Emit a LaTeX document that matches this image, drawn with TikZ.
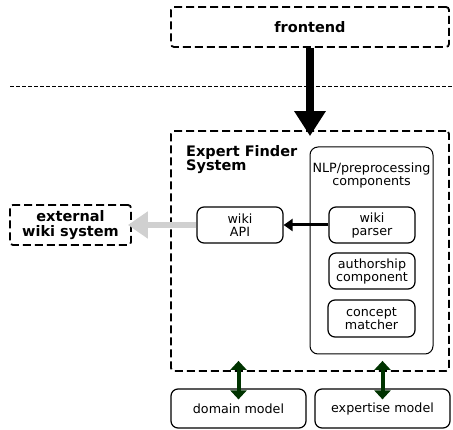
\documentclass[tikz,border=0pt]{standalone}
\usepackage{fontspec}
\setmainfont{DejaVu Sans}
\usetikzlibrary{arrows.meta}
\definecolor{darkgreen}{HTML}{003300}
\definecolor{lightgrey}{HTML}{D0D0D0}
\begin{document}
\begin{tikzpicture}[x=1pt,y=-1pt,
  dashbox/.style={draw, line width=1.8pt, dash pattern=on 8pt off 4pt,
    rounded corners=3pt, inner sep=0pt, align=center,
    font=\fontsize{14.5}{15}\selectfont\bfseries},
  compbox/.style={draw, line width=1.2pt, rounded corners=7pt, inner sep=0pt,
    minimum width=86pt, minimum height=36pt, align=center,
    font=\fontsize{12.7}{13}\selectfont},
  modelbox/.style={compbox, minimum width=135pt, minimum height=39pt},
  bigarrow/.style={line width=8pt, -{Triangle[width=30pt,length=25pt]}},
  callarrow/.style={line width=3pt, -{Triangle[width=12pt,length=9pt]}},
  greyarrow/.style={lightgrey, line width=6.5pt, -{Triangle[width=26pt,length=20pt]}},
  dataarrow/.style={darkgreen, line width=4pt,
    {Triangle[width=16pt,length=9pt]}-{Triangle[width=16pt,length=9pt]}}
]
\useasboundingbox (0,0) rectangle (453,430);

% frontend and the separating line
\node[dashbox, minimum width=278pt, minimum height=40pt] (frontend) at (310,27) {frontend};
\coordinate (sepL) at (10,86);
\coordinate (sepR) at (453,86);
\draw[line width=0.6pt, dash pattern=on 4pt off 2pt] (sepL) -- (sepR);

% Expert Finder System container
\node[dashbox, minimum width=278pt, minimum height=240pt] (efs) at (310,251) {};
\node[anchor=north west, inner sep=0pt, align=left,
  font=\fontsize{14.5}{14.5}\selectfont\bfseries] (efstitle) at (186,145) {Expert Finder\\System};

% NLP / preprocessing group
\node[draw, line width=1pt, rounded corners=8pt, minimum width=123pt,
  minimum height=207pt, inner sep=0pt] (nlp) at (371.5,250.5) {};
\node[anchor=north, inner sep=0pt, align=center,
  font=\fontsize{12.7}{13}\selectfont] (nlplabel) at (371.5,162.5) {NLP/preprocessing\\components};

\node[compbox] (parser) at (372,225) {wiki\\parser};
\node[compbox] (api) at (240,225) {wiki\\API};
\node[compbox] (author) at (372,271) {authorship\\component};
\node[compbox, minimum width=87pt, minimum height=37pt] (matcher) at (371.5,318.5) {concept\\matcher};

% external system
\node[dashbox, minimum width=121pt, minimum height=40pt] (ext) at (70.5,225) {external\\wiki system};

% models
\node[modelbox] (domain) at (238.5,408.5) {domain model};
\node[modelbox] (expertise) at (382.5,408.5) {expertise model};

% connectors
\draw[bigarrow] (frontend.south) -- ([yshift=-6pt]efs.north);
\draw[callarrow] (parser.west) -- (api.east);
\draw[greyarrow] (api.west) -- ([xshift=-4pt]ext.east);
\draw[dataarrow] ([yshift=11pt]domain.north |- efs.south) -- ([yshift=-11pt]domain.north);
\draw[dataarrow] ([yshift=11pt]expertise.north |- efs.south) -- ([yshift=-11pt]expertise.north);
\end{tikzpicture}
\end{document}
